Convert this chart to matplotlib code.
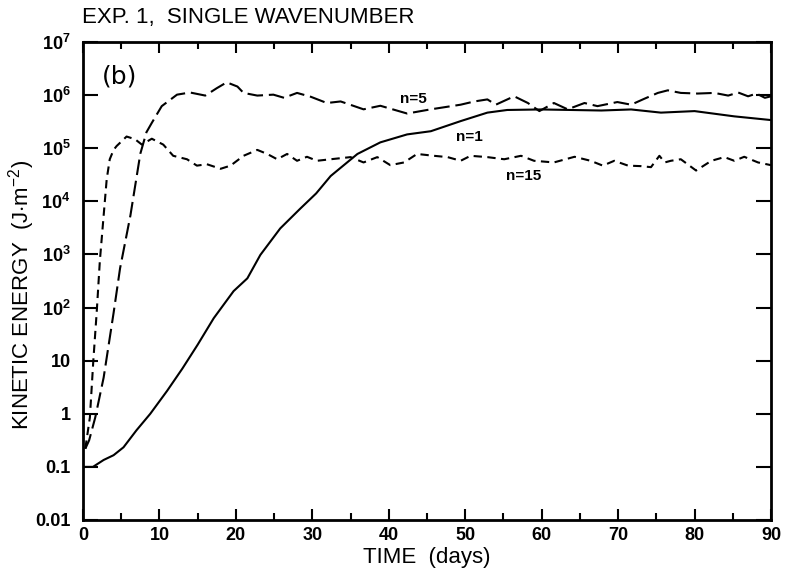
"""
Kinetic energy growth for a single wavenumber (Exp. 1, panel b).
Values read off the printed figure.
"""
import matplotlib.pyplot as plt
from matplotlib.ticker import FixedLocator, MultipleLocator

# ------------------------------------------------------------
# Data (time in days, kinetic energy in J m^-2)
# ------------------------------------------------------------
days_n1 = [0, 1.3, 2.7, 4.0, 5.3, 7.0, 8.8, 11.0, 13.0, 15.0, 17.1, 19.7,
           21.5, 23.2, 25.8, 28.4, 30.5, 32.4, 35.9, 38.9, 42.4, 45.5,
           49.4, 52.9, 55.5, 59.9, 63.8, 67.8, 71.7, 75.6, 80.0, 85.2, 90.0]
ke_n1 = [0.1, 0.1, 0.135, 0.166, 0.234, 0.49, 1.0, 2.7, 7.1, 20, 63, 204,
         355, 980, 3090, 7240, 1.41e4, 3.0e4, 7.8e4, 1.29e5, 1.82e5, 2.09e5,
         3.24e5, 4.68e5, 5.25e5, 5.37e5, 5.25e5, 5.13e5, 5.37e5, 4.68e5,
         5.0e5, 3.98e5, 3.39e5]

days_n5 = [0.3, 0.8, 1.6, 2.7, 4.0, 4.85, 6.2, 7.5, 8.3, 9.0, 10.3, 12.3,
           14.0, 16.0, 17.5, 18.8, 20.2, 21.0, 22.8, 24.9, 26.3, 28.0, 29.8,
           31.9, 33.7, 36.7, 38.9, 42.4, 45.5, 49.4, 51.2, 52.9, 54.0, 56.4,
           58.2, 59.7, 61.6, 63.4, 65.6, 67.3, 69.9, 71.7, 73.4, 75.2, 76.5,
           78.2, 80.4, 82.6, 84.4, 85.7, 87.0, 88.1, 89.2, 90.0]
ke_n5 = [0.22, 0.316, 0.85, 4.8, 79, 550, 5.4e3, 7.9e4, 2.0e5, 3.0e5, 6.2e5,
         1.02e6, 1.12e6, 9.8e5, 1.35e6, 1.74e6, 1.45e6, 1.10e6, 9.8e5,
         1.02e6, 8.9e5, 1.10e6, 9.3e5, 7.1e5, 7.6e5, 5.4e5, 6.3e5, 4.5e5,
         5.4e5, 6.6e5, 7.6e5, 8.3e5, 6.6e5, 9.5e5, 7.1e5, 5.0e5, 7.1e5,
         5.4e5, 7.1e5, 6.2e5, 7.4e5, 6.6e5, 8.5e5, 1.10e6, 1.23e6, 1.10e6,
         1.07e6, 1.10e6, 9.8e5, 1.12e6, 9.5e5, 1.07e6, 8.9e5, 9.5e5]

days_n15 = [0.3, 0.9, 1.35, 1.8, 2.2, 2.7, 3.1, 3.5, 4.0, 4.4, 5.7, 6.8, 7.7,
            9.0, 10.5, 11.8, 13.6, 14.9, 16.2, 18.0, 19.3, 21.0, 22.8, 24.1,
            25.4, 26.7, 28.0, 29.3, 30.6, 32.4, 35.0, 36.7, 38.5, 40.2, 42.0,
            43.7, 45.9, 47.7, 49.4, 50.7, 52.9, 55.1, 57.3, 59.0, 61.6, 64.3,
            66.4, 68.0, 69.5, 71.3, 73.0, 74.3, 75.4, 76.1, 76.9, 78.2, 80.2,
            82.2, 83.9, 85.2, 86.5, 88.3, 90.0]
ke_n15 = [0.22, 0.85, 10, 85, 740, 5.4e3, 2.6e4, 6.2e4, 9.3e4, 1.10e5,
          1.66e5, 1.48e5, 1.17e5, 1.51e5, 1.17e5, 7.2e4, 6.2e4, 4.7e4, 5.0e4,
          4.1e4, 4.7e4, 7.2e4, 9.3e4, 7.8e4, 6.2e4, 7.8e4, 5.8e4, 6.9e4,
          5.8e4, 6.2e4, 6.8e4, 5.4e4, 6.8e4, 4.8e4, 5.4e4, 7.8e4, 7.2e4,
          6.8e4, 5.8e4, 7.2e4, 6.8e4, 6.2e4, 7.2e4, 5.8e4, 5.4e4, 6.9e4,
          5.8e4, 4.7e4, 5.8e4, 4.7e4, 4.6e4, 4.4e4, 7.2e4, 5.4e4, 5.8e4,
          6.2e4, 3.8e4, 5.8e4, 6.8e4, 5.8e4, 6.9e4, 5.4e4, 4.8e4]

y_ticks = [1e-2, 1e-1, 1, 10, 1e2, 1e3, 1e4, 1e5, 1e6, 1e7]
y_tick_labels = ["0.01", "0.1", "1", "10", "$\\mathbf{10^2}$",
                 "$\\mathbf{10^3}$", "$\\mathbf{10^4}$", "$\\mathbf{10^5}$",
                 "$\\mathbf{10^6}$", "$\\mathbf{10^7}$"]
x_ticks = [0, 10, 20, 30, 40, 50, 60, 70, 80, 90]

# ------------------------------------------------------------
# Figure
# ------------------------------------------------------------
plt.rcParams["font.family"] = ["Liberation Sans", "DejaVu Sans"]
plt.rcParams["mathtext.fontset"] = "custom"
plt.rcParams["mathtext.rm"] = "Liberation Sans"
plt.rcParams["mathtext.it"] = "Liberation Sans"
plt.rcParams["mathtext.bf"] = "Liberation Sans:bold"

fig = plt.figure(figsize=(7.91, 5.80), dpi=100)
ax = fig.add_axes([83 / 791, 1 - 520 / 580, 688 / 791, 478 / 580])

ax.plot(days_n1, ke_n1, color="black", lw=1.5, solid_capstyle="round")
ax.plot(days_n5, ke_n5, color="black", lw=1.5, dashes=(7.5, 2.8))
ax.plot(days_n15, ke_n15, color="black", lw=1.5, dashes=(4.0, 2.6))

ax.set_yscale("log")
ax.set_xlim(0, 90)
ax.set_ylim(1e-2, 1e7)

ax.yaxis.set_major_locator(FixedLocator(y_ticks))
ax.yaxis.set_minor_locator(FixedLocator([]))
ax.set_yticklabels(y_tick_labels)
ax.xaxis.set_major_locator(FixedLocator(x_ticks))
ax.xaxis.set_minor_locator(MultipleLocator(5))

for side in ax.spines.values():
    side.set_linewidth(2.0)

ax.tick_params(axis="y", which="major", direction="in", length=11, width=1.5,
               right=True, labelsize=13, pad=9)
ax.tick_params(axis="x", which="major", direction="in", length=8, width=1.5,
               top=True, labelsize=13, pad=5)
ax.tick_params(axis="x", which="minor", direction="in", length=5, width=1.5,
               top=True)
for lab in ax.get_xticklabels() + ax.get_yticklabels():
    lab.set_fontweight("bold")

ax.set_xlabel("TIME  (days)", fontsize=16, labelpad=2)
ax.set_ylabel("KINETIC ENERGY  (J$\\cdot$m$^{-2}$)", fontsize=16,
              va="center")
ax.yaxis.set_label_coords(-61 / 688, 0.47)

fig.text(82 / 791, 1 - 18 / 580, "EXP. 1,  SINGLE WAVENUMBER", fontsize=16,
         ha="left", va="center")

ax.text(2.5, 2.2e6, "(b)", fontsize=18, family=["DejaVu Sans"], ha="left",
        va="center")

# curve labels
ax.text(43.2, 0.85e6, "n=5", fontsize=11, fontweight="bold", ha="center",
        va="center")
ax.text(50.6, 1.65e5, "n=1", fontsize=11, fontweight="bold", ha="center",
        va="center")
ax.text(57.6, 3.0e4, "n=15", fontsize=11, fontweight="bold", ha="center",
        va="center")

fig.savefig("out.png", dpi=100)
